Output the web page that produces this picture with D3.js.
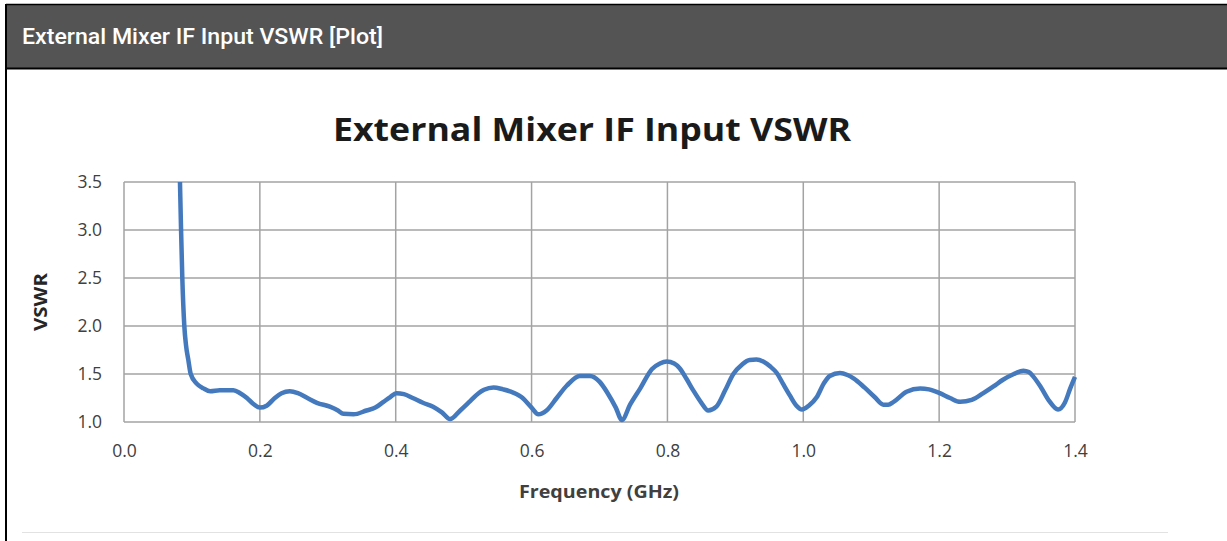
<!DOCTYPE html>
<html lang="en">
  <head>
    <meta charset="UTF-8" />
    <title>External Mixer IF Input VSWR</title>
    <script src="https://d3js.org/d3.v7.min.js"></script>
    <style>
      body {
        margin: 0;
        background: #fff;
        overflow: hidden;
      }
      svg {
        display: block;
      }
    </style>
  </head>
  <body>
    <svg id="chart"></svg>
    <script>
      // frequency in GHz, VSWR
      const freq = [
        0.0824, 0.0839, 0.0858, 0.0888, 0.0913, 0.0947, 0.0982, 0.107, 0.117,
        0.127, 0.141, 0.161, 0.171, 0.181, 0.19, 0.2, 0.21, 0.222, 0.232,
        0.244, 0.256, 0.27, 0.284, 0.303, 0.315, 0.323, 0.338, 0.357, 0.37,
        0.382, 0.392, 0.401, 0.412, 0.425, 0.44, 0.455, 0.468, 0.48, 0.495,
        0.51, 0.522, 0.53, 0.544, 0.558, 0.568, 0.585, 0.6, 0.61, 0.622,
        0.637, 0.652, 0.671, 0.686, 0.7, 0.712, 0.724, 0.733, 0.745, 0.76,
        0.777, 0.789, 0.799, 0.81, 0.818, 0.828, 0.838, 0.85, 0.86, 0.872,
        0.885, 0.897, 0.91, 0.921, 0.931, 0.941, 0.951, 0.961, 0.97, 0.98,
        0.99, 0.998, 1.008, 1.02, 1.03, 1.039, 1.054, 1.065, 1.074, 1.09,
        1.105, 1.118, 1.125, 1.133, 1.152, 1.172, 1.185, 1.201, 1.216, 1.231,
        1.248, 1.265, 1.28, 1.294, 1.31, 1.324, 1.332, 1.339, 1.35, 1.362,
        1.375, 1.385, 1.393, 1.4,
      ];
      const vswr = [
        3.5, 3.03, 2.51, 2.0, 1.8, 1.646, 1.5, 1.4, 1.35, 1.32, 1.33, 1.33,
        1.3, 1.25, 1.19, 1.15, 1.17, 1.25, 1.3, 1.32, 1.3, 1.25, 1.2, 1.16,
        1.12, 1.085, 1.08, 1.12, 1.15, 1.21, 1.26, 1.3, 1.29, 1.25, 1.2, 1.16,
        1.1, 1.03, 1.12, 1.22, 1.3, 1.335, 1.36, 1.34, 1.32, 1.26, 1.15, 1.08,
        1.12, 1.25, 1.38, 1.48, 1.48, 1.42, 1.3, 1.15, 1.02, 1.18, 1.35, 1.55,
        1.61, 1.63, 1.61, 1.56, 1.45, 1.33, 1.2, 1.12, 1.16, 1.33, 1.5, 1.6,
        1.646, 1.65, 1.63, 1.58, 1.51, 1.4, 1.28, 1.17, 1.13, 1.17, 1.26, 1.4,
        1.48, 1.51, 1.49, 1.455, 1.36, 1.26, 1.18, 1.18, 1.21, 1.316, 1.35,
        1.34, 1.3, 1.25, 1.21, 1.23, 1.3, 1.37, 1.44, 1.5, 1.535, 1.52, 1.47,
        1.36, 1.22, 1.13, 1.2, 1.35, 1.47,
      ];
      const xTicks = [0, 0.2, 0.4, 0.6, 0.8, 1.0, 1.2, 1.4];
      const yTicks = [1.0, 1.5, 2.0, 2.5, 3.0, 3.5];

      const width = 1227;
      const height = 541;
      const svg = d3
        .select("#chart")
        .attr("width", width)
        .attr("height", height);

      // page frame and header band
      svg.append("rect").attr("x", 0).attr("y", 0).attr("width", width).attr("height", height).attr("fill", "#fff");
      svg.append("rect").attr("x", 6).attr("y", 4).attr("width", width - 6).attr("height", 65).attr("fill", "#545454");
      svg.append("line").attr("x1", 6).attr("x2", width).attr("y1", 4.5).attr("y2", 4.5).attr("stroke", "#000").attr("stroke-width", 1.5);
      svg.append("line").attr("x1", 6).attr("x2", width).attr("y1", 68.5).attr("y2", 68.5).attr("stroke", "#000").attr("stroke-width", 2);
      svg.append("line").attr("x1", 6).attr("x2", 6).attr("y1", 4).attr("y2", height).attr("stroke", "#000").attr("stroke-width", 2);
      svg
        .append("text")
        .attr("x", 22)
        .attr("y", 44)
        .attr("fill", "#fff")
        .attr("font-family", "Roboto, sans-serif")
        .attr("font-weight", 500)
        .attr("font-size", 22)
        .attr("textLength", 361)
        .attr("lengthAdjust", "spacingAndGlyphs")
        .text("External Mixer IF Input VSWR [Plot]");

      svg.append("line").attr("x1", 22).attr("x2", 1168).attr("y1", 532.5).attr("y2", 532.5).attr("stroke", "#e2e2e2").attr("stroke-width", 1);

      // chart
      const x = d3.scaleLinear().domain([0, 1.4]).range([124, 1075]);
      const y = d3.scaleLinear().domain([1, 3.5]).range([422, 182]);

      svg
        .append("text")
        .attr("x", 592)
        .attr("y", 141)
        .attr("text-anchor", "middle")
        .attr("font-family", "'Open Sans', sans-serif")
        .attr("font-weight", 700)
        .attr("font-size", 32)
        .attr("fill", "#1a1a1a")
        .attr("textLength", 518)
        .attr("lengthAdjust", "spacingAndGlyphs")
        .text("External Mixer IF Input VSWR");

      const grid = svg.append("g").attr("stroke", "#a3a3a3").attr("stroke-width", 1.5);
      grid
        .selectAll(".vx")
        .data(xTicks)
        .join("line")
        .attr("x1", (d) => x(d))
        .attr("x2", (d) => x(d))
        .attr("y1", y(3.5))
        .attr("y2", y(1));
      grid
        .selectAll(".hy")
        .data(yTicks)
        .join("line")
        .attr("x1", x(0))
        .attr("x2", x(1.4))
        .attr("y1", (d) => y(d))
        .attr("y2", (d) => y(d));

      const fmt = d3.format(".1f");
      const xAxis = svg
        .append("g")
        .attr("transform", `translate(0,${y(1)})`)
        .call(d3.axisBottom(x).tickValues(xTicks).tickFormat(fmt).tickSize(0).tickPadding(23));
      const yAxis = svg
        .append("g")
        .attr("transform", `translate(${x(0)},0)`)
        .call(d3.axisLeft(y).tickValues(yTicks).tickFormat(fmt).tickSize(0).tickPadding(22));
      [xAxis, yAxis].forEach((g) => {
        g.select(".domain").remove();
        g.selectAll("text")
          .attr("font-family", "'Open Sans', sans-serif")
          .attr("font-size", 17.5)
          .attr("fill", "#404040");
      });

      svg
        .append("text")
        .attr("x", 599)
        .attr("y", 498)
        .attr("text-anchor", "middle")
        .attr("font-family", "'Open Sans', sans-serif")
        .attr("font-weight", 700)
        .attr("font-size", 17)
        .attr("fill", "#404040")
        .attr("textLength", 160)
        .attr("lengthAdjust", "spacingAndGlyphs")
        .text("Frequency (GHz)");
      svg
        .append("text")
        .attr("transform", `translate(47,302) rotate(-90)`)
        .attr("text-anchor", "middle")
        .attr("font-family", "'Open Sans', sans-serif")
        .attr("font-weight", 700)
        .attr("font-size", 18)
        .attr("fill", "#262626")
        .attr("textLength", 58)
        .attr("lengthAdjust", "spacingAndGlyphs")
        .text("VSWR");

      const points = freq.map((f, i) => [f, vswr[i]]);
      const line = d3
        .line()
        .x((d) => x(d[0]))
        .y((d) => y(d[1]))
        .curve(d3.curveMonotoneX);
      svg
        .append("path")
        .datum(points)
        .attr("d", line)
        .attr("fill", "none")
        .attr("stroke", "#4479bd")
        .attr("stroke-width", 4.5)
        .attr("stroke-linejoin", "round");
    </script>
  </body>
</html>
